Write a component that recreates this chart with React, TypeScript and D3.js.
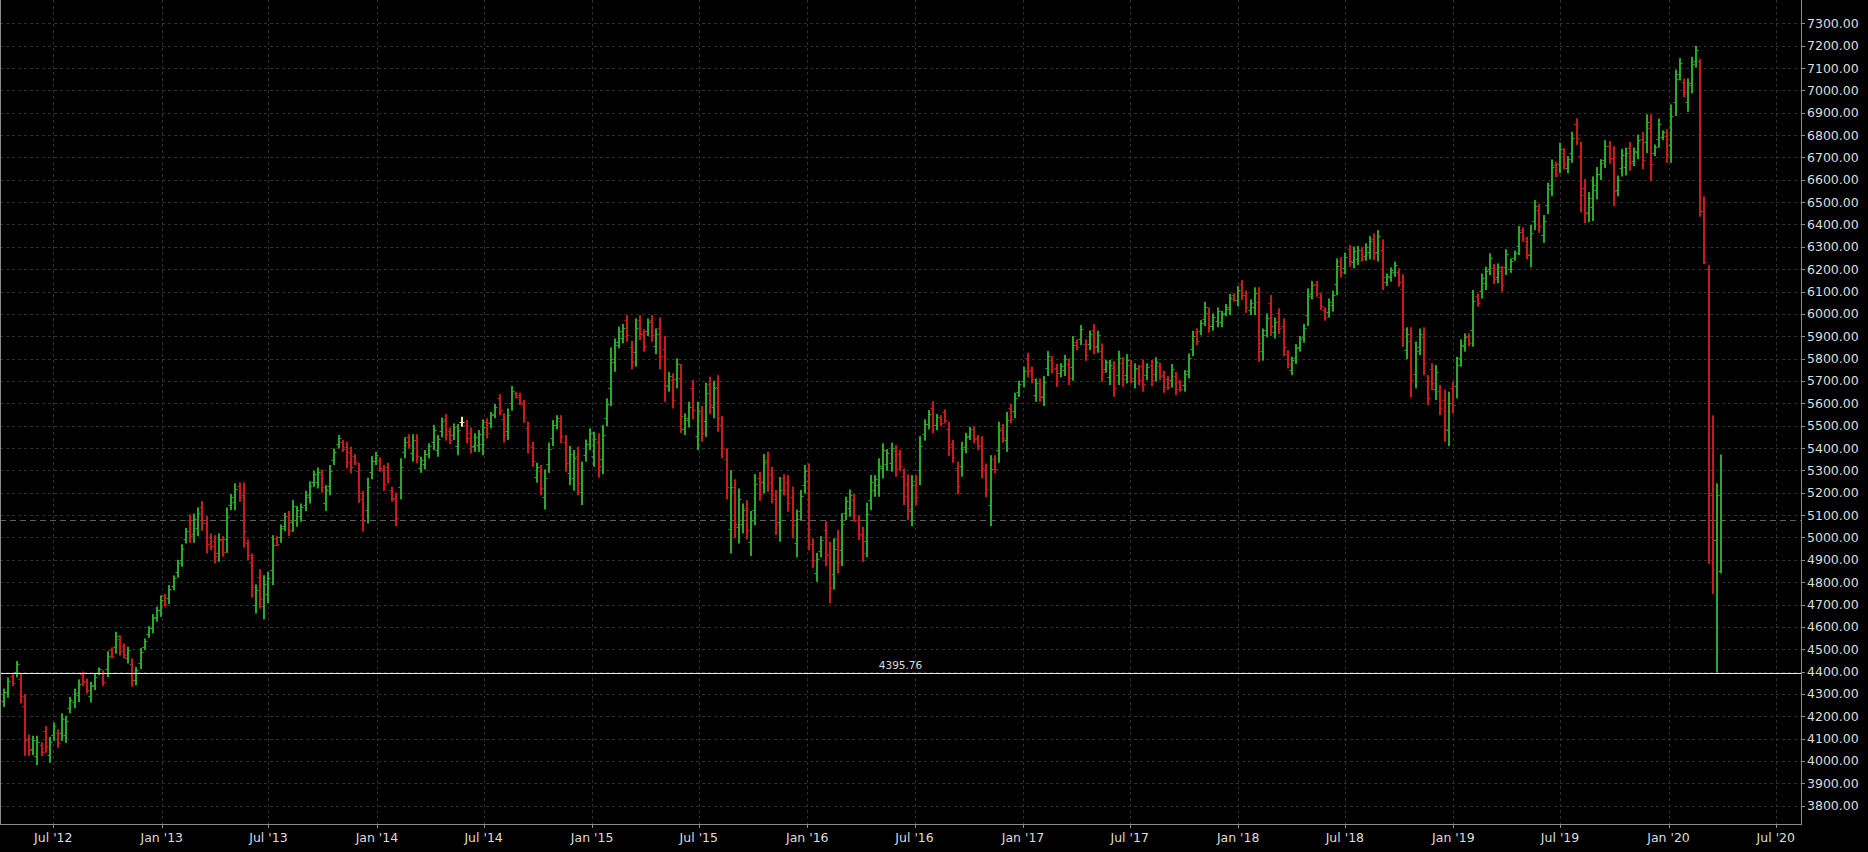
import React from 'react';
import * as d3 from 'd3';

const W = 1868;
const H = 852;
const PLOT_RIGHT = 1801;
const PLOT_BOTTOM = 824;

// weekly bars (Mondays), Apr 2012 .. Mar 2020
const barDates: Date[] = d3.utcMonday.range(new Date(Date.UTC(2012, 3, 2)), new Date(Date.UTC(2020, 3, 1)));

const highs = [
  4354,4324,4374,4389,4447,4392,4299,4119,4113,4113,
  4084,4156,4108,4172,4141,4213,4202,4286,4324,4365,
  4400,4369,4354,4392,4418,4406,4491,4508,4578,4563,
  4526,4511,4459,4421,4506,4548,4603,4657,4690,4741,
  4747,4787,4830,4900,4970,5042,5103,5107,5134,5163,
  5097,5018,5010,5018,5006,5134,5194,5242,5246,5246,
  4991,4928,4790,4858,4831,4846,5010,5006,5058,5110,
  5118,5167,5140,5152,5209,5251,5298,5313,5304,5234,
  5324,5398,5458,5435,5428,5406,5373,5334,5209,5267,
  5364,5383,5358,5324,5334,5227,5200,5354,5448,5462,
  5462,5462,5361,5391,5421,5503,5458,5537,5552,5492,
  5510,5507,5540,5525,5492,5466,5480,5528,5533,5562,
  5597,5641,5555,5577,5677,5652,5647,5615,5518,5428,
  5334,5324,5304,5424,5525,5547,5547,5458,5409,5391,
  5406,5339,5438,5488,5473,5466,5503,5622,5850,5890,
  5943,5955,5995,5880,5980,5995,5931,5980,5995,5935,
  5985,5901,5741,5734,5801,5776,5555,5607,5704,5607,
  5588,5692,5719,5701,5726,5543,5398,5301,5260,5219,
  5152,5167,5119,5283,5294,5373,5383,5316,5212,5271,
  5283,5279,5227,5125,5212,5324,5331,4996,4931,5006,
  5073,4981,4996,5033,5108,5182,5215,5194,5100,5048,
  5155,5279,5279,5354,5421,5395,5424,5413,5391,5309,
  5282,5279,5279,5453,5528,5570,5610,5552,5547,5573,
  5518,5436,5339,5428,5468,5495,5498,5458,5453,5331,
  5368,5368,5518,5507,5562,5597,5647,5701,5764,5826,
  5764,5711,5711,5722,5834,5811,5776,5779,5816,5801,
  5901,5886,5950,5886,5925,5955,5925,5868,5794,5794,
  5789,5835,5806,5820,5794,5779,5771,5796,5779,5794,
  5806,5782,5746,5722,5776,5741,5704,5749,5823,5925,
  5935,5972,6054,6029,6002,6029,6013,6044,6089,6092,
  6125,6151,6104,6065,6119,6119,5935,6002,6084,5984,
  6025,5980,5838,5808,5865,5901,5955,6114,6147,6147,
  6092,6029,6069,6104,6248,6253,6274,6308,6301,6304,
  6298,6316,6348,6360,6375,6333,6181,6208,6234,6204,
  6178,5940,5940,5876,5935,5940,5726,5779,5771,5682,
  5662,5652,5697,5808,5886,5913,5913,6107,6092,6181,
  6211,6271,6223,6226,6214,6289,6248,6283,6393,6387,
  6345,6398,6509,6492,6442,6587,6691,6681,6766,6741,
  6706,6815,6875,6769,6603,6545,6615,6657,6692,6777,
  6773,6750,6619,6738,6744,6769,6744,6802,6815,6893,
  6893,6758,6874,6821,6827,6937,7092,7144,7053,7053,
  7150,7199,7141,6526,6219,5546,5242,5371,
];

const lows = [
  4280,4242,4283,4335,4374,4257,4023,4023,4026,3981,
  4022,4037,3992,4090,4059,4090,4081,4213,4236,4263,
  4336,4302,4262,4317,4384,4336,4375,4459,4480,4471,
  4459,4436,4332,4339,4411,4496,4551,4571,4623,4645,
  4690,4702,4764,4820,4869,4973,4976,4976,5006,5030,
  4928,4943,4884,4891,4914,4931,5122,5122,5160,4955,
  4899,4731,4660,4682,4633,4705,4787,4961,4976,5028,
  5006,5025,5048,5070,5118,5152,5227,5219,5200,5119,
  5189,5324,5398,5383,5309,5286,5324,5155,5026,5063,
  5260,5324,5294,5209,5242,5160,5051,5170,5354,5398,
  5339,5331,5289,5304,5354,5391,5361,5448,5433,5418,
  5436,5368,5495,5421,5376,5383,5383,5368,5443,5488,
  5533,5547,5424,5436,5567,5622,5592,5513,5376,5316,
  5245,5189,5125,5289,5409,5483,5421,5294,5234,5209,
  5189,5145,5339,5391,5316,5268,5283,5498,5588,5741,
  5846,5868,5875,5752,5764,5883,5831,5901,5875,5820,
  5752,5607,5652,5577,5667,5468,5458,5492,5528,5391,
  5428,5450,5552,5533,5473,5354,5170,4928,4996,4973,
  5018,4991,4917,5055,5164,5197,5204,5152,5011,4981,
  5189,5115,4996,4911,5078,5197,4943,4864,4802,4911,
  4872,4705,4767,4839,4872,5078,5093,5070,4988,4891,
  4911,5122,5182,5182,5264,5298,5294,5272,5298,5145,
  5078,5051,5145,5234,5433,5483,5465,5480,5498,5510,
  5364,5334,5194,5272,5376,5436,5421,5391,5264,5179,
  5051,5286,5334,5424,5383,5510,5533,5629,5671,5716,
  5689,5607,5607,5588,5722,5734,5674,5716,5722,5682,
  5701,5838,5861,5790,5838,5820,5826,5697,5737,5682,
  5629,5682,5674,5689,5689,5667,5682,5652,5704,5677,
  5697,5704,5647,5659,5671,5637,5652,5652,5711,5811,
  5861,5905,5946,5916,5925,5940,5940,5990,5995,6055,
  6035,6062,6005,5995,5995,5786,5791,5895,5901,5890,
  5910,5811,5756,5726,5776,5831,5871,5946,6065,6077,
  6017,5970,5984,6010,6084,6163,6178,6211,6204,6219,
  6234,6238,6244,6241,6234,6107,6125,6144,6166,6122,
  5853,5797,5626,5667,5816,5726,5592,5659,5615,5547,
  5428,5409,5555,5622,5764,5831,5856,5853,6032,6069,
  6107,6174,6134,6137,6099,6174,6184,6238,6263,6323,
  6244,6208,6375,6363,6318,6447,6527,6611,6629,6647,
  6629,6676,6756,6454,6406,6410,6416,6512,6599,6653,
  6672,6483,6526,6615,6619,6641,6661,6692,6647,6719,
  6595,6706,6744,6777,6676,6676,6885,7044,6970,6904,
  6986,7102,6435,6223,4882,4747,4395.76,4839,
];

const opens = [
  4339,4267,4310,4378,4396,4365,4244,4100,4052,4021,
  4072,4132,4027,4115,4125,4127,4117,4235,4262,4294,
  4387,4356,4290,4340,4394,4392,4410,4498,4509,4545,
  4513,4459,4434,4364,4440,4512,4567,4597,4643,4674,
  4736,4728,4784,4844,4899,4994,5078,5015,5044,5136,
  5063,5003,4985,4929,4988,4992,5144,5158,5229,5188,
  4973,4889,4699,4823,4692,4747,4854,4997,5001,5053,
  5096,5068,5076,5095,5145,5182,5248,5247,5283,5154,
  5230,5346,5416,5425,5404,5382,5363,5298,5172,5124,
  5291,5342,5345,5301,5316,5214,5170,5225,5382,5449,
  5376,5436,5311,5330,5374,5425,5390,5475,5528,5477,
  5458,5410,5515,5504,5469,5408,5412,5416,5515,5510,
  5552,5622,5529,5478,5600,5646,5636,5595,5490,5406,
  5272,5297,5179,5330,5444,5502,5522,5425,5287,5264,
  5363,5203,5369,5420,5363,5426,5349,5535,5667,5786,
  5875,5894,5971,5854,5829,5973,5911,5925,5971,5855,
  5938,5842,5679,5703,5707,5714,5487,5527,5669,5456,
  5556,5523,5686,5583,5675,5505,5352,5040,5207,5047,
  5058,5132,4978,5123,5268,5250,5347,5283,5172,5068,
  5264,5246,5181,4975,5118,5235,5253,4970,4841,4940,
  5033,4926,4836,4994,4943,5109,5130,5169,5078,5017,
  4984,5169,5211,5234,5311,5327,5333,5385,5372,5276,
  5241,5119,5252,5300,5462,5509,5581,5502,5537,5560,
  5487,5416,5310,5319,5404,5454,5483,5445,5415,5301,
  5146,5352,5389,5490,5437,5580,5567,5651,5699,5804,
  5749,5638,5690,5628,5756,5796,5756,5735,5750,5777,
  5761,5876,5888,5867,5864,5928,5856,5834,5754,5716,
  5757,5728,5780,5728,5773,5701,5753,5767,5727,5771,
  5730,5766,5726,5709,5703,5720,5694,5681,5745,5845,
  5920,5925,5978,6006,5948,5967,5962,6006,6023,6085,
  6062,6133,6084,6016,6032,6052,5834,5927,6047,5918,
  6002,5946,5822,5751,5803,5852,5896,5996,6090,6133,
  6077,6017,6010,6038,6133,6235,6207,6289,6233,6245,
  6285,6261,6275,6336,6276,6288,6142,6163,6186,6188,
  6113,5840,5877,5730,5852,5897,5699,5755,5662,5655,
  5615,5482,5669,5678,5801,5856,5902,5929,6080,6103,
  6138,6203,6205,6164,6191,6209,6203,6252,6302,6374,
  6325,6265,6415,6466,6355,6489,6576,6667,6670,6722,
  6652,6718,6851,6706,6564,6451,6476,6556,6627,6690,
  6753,6697,6554,6652,6657,6743,6686,6725,6781,6771,
  6833,6722,6783,6790,6797,6754,6947,7074,7036,6949,
  7035,7131,7130,6460,6200,5190,4990,4850,
];

const closes = [
  4299,4308,4356,4349,4432,4291,4092,4047,4096,4087,
  4038,4067,4085,4156,4080,4188,4178,4271,4306,4345,
  4352,4319,4336,4377,4411,4354,4468,4471,4558,4494,
  4476,4496,4364,4405,4487,4538,4593,4640,4677,4722,
  4704,4770,4817,4884,4950,5028,5008,5081,5108,5063,
  4970,4962,4916,4993,4937,5093,5180,5218,5182,5028,
  4922,4780,4764,4726,4791,4818,4965,4972,5042,5094,
  5034,5139,5122,5136,5191,5231,5284,5294,5226,5211,
  5297,5383,5446,5396,5339,5316,5336,5200,5072,5226,
  5343,5371,5310,5238,5265,5177,5088,5317,5429,5414,
  5437,5364,5347,5374,5408,5481,5439,5519,5463,5437,
  5495,5479,5515,5447,5405,5449,5461,5496,5466,5547,
  5584,5571,5457,5549,5655,5630,5606,5539,5412,5344,
  5316,5223,5268,5397,5502,5534,5453,5335,5374,5355,
  5243,5300,5418,5469,5442,5318,5459,5597,5798,5860,
  5924,5938,5905,5784,5937,5911,5856,5964,5905,5912,
  5810,5681,5723,5616,5774,5545,5536,5584,5572,5564,
  5468,5644,5594,5667,5536,5401,5227,5226,5062,5170,
  5125,5035,5079,5237,5196,5338,5249,5193,5061,5213,
  5213,5156,5054,5082,5185,5299,5040,4897,4905,4987,
  4922,4774,4950,4888,5061,5161,5191,5101,5016,4930,
  5106,5248,5260,5320,5390,5376,5398,5307,5321,5186,
  5129,5233,5179,5409,5509,5553,5501,5538,5510,5526,
  5403,5360,5230,5397,5450,5483,5440,5408,5311,5217,
  5305,5307,5481,5445,5526,5532,5624,5687,5745,5744,
  5708,5690,5633,5695,5812,5753,5700,5766,5797,5712,
  5861,5850,5932,5814,5908,5854,5905,5740,5783,5772,
  5669,5804,5707,5794,5715,5757,5704,5688,5764,5706,
  5784,5724,5672,5675,5755,5663,5665,5730,5801,5902,
  5880,5959,6032,5944,5987,6011,5998,6033,6070,6064,
  6107,6084,6030,6051,6094,5869,5906,5981,5947,5965,
  5939,5853,5777,5792,5847,5887,5938,6080,6131,6095,
  6036,5985,6052,6085,6215,6186,6255,6235,6282,6287,
  6250,6300,6327,6271,6347,6164,6170,6195,6220,6143,
  5934,5911,5705,5834,5911,5780,5626,5689,5740,5581,
  5487,5603,5591,5771,5862,5897,5870,6056,6047,6159,
  6190,6252,6156,6208,6128,6266,6235,6274,6367,6339,
  6269,6360,6482,6395,6417,6559,6658,6628,6739,6670,
  6691,6787,6786,6533,6455,6518,6575,6628,6673,6752,
  6697,6550,6600,6713,6719,6673,6727,6780,6689,6858,
  6670,6748,6848,6812,6714,6885,7051,7124,6991,7023,
  7117,7180,6460,6230,5200,4990,5190,5080,
];

const yTickValues = d3.range(3800, 7301, 100);
const xTickDates: Date[] = d3.utcMonth.every(6)!.range(new Date(Date.UTC(2012, 6, 1)), new Date(Date.UTC(2020, 6, 2)));
const markedLow = 4395.76;
const lastClose = closes[closes.length - 1];

const UP = '#2aa82a';
const DOWN = '#c81a1a';
const FLAT = '#f3e8a0';
const GRID = '#2e2e2e';
const AXIS = '#8c8c8c';
const TEXT = '#dcdcdc';
const FONT = '"DejaVu Sans", Verdana, sans-serif';

export default function App() {
  const x = d3.scaleUtc()
    .domain([new Date(Date.UTC(2012, 6, 1)), new Date(Date.UTC(2020, 6, 1))])
    .range([53.3, 1775.8]);
  const y = d3.scaleLinear().domain([3800, 7300]).range([805.7, 23.3]);
  const fmtY = d3.format('.2f');
  const fmtX = d3.utcFormat("%b '%y");
  const n = Math.min(barDates.length, highs.length, lows.length, opens.length, closes.length);
  const bars = d3.range(n).map(i => ({
    d: barDates[i], o: opens[i], h: highs[i], l: lows[i], c: closes[i],
  }));
  const snap = (v: number) => Math.round(v) + 0.5;

  return (
    <svg width={W} height={H} style={{ position: 'fixed', left: 0, top: 0, background: '#000', display: 'block' }}
      fontFamily={FONT}>
      <rect x={0} y={0} width={W} height={H} fill="#000" />
      <defs>
        <clipPath id="plot">
          <rect x={0} y={0} width={PLOT_RIGHT} height={PLOT_BOTTOM} />
        </clipPath>
      </defs>
      {/* grid */}
      <g stroke={GRID} strokeWidth={1} strokeDasharray="3,3">
        {yTickValues.map(v => (
          <line key={'gy' + v} x1={0} x2={PLOT_RIGHT} y1={snap(y(v))} y2={snap(y(v))} />
        ))}
        {xTickDates.map(d => (
          <line key={'gx' + d.getTime()} x1={snap(x(d))} x2={snap(x(d))} y1={0} y2={PLOT_BOTTOM} />
        ))}
      </g>
      {/* last close dashed line */}
      <line x1={0} x2={PLOT_RIGHT} y1={snap(y(lastClose))} y2={snap(y(lastClose))}
        stroke="#5e5e5e" strokeDasharray="6,4" strokeWidth={1} />
      {/* bars */}
      <g clipPath="url(#plot)">
        {bars.map((b, i) => {
          const cx = Math.round(x(b.d));
          const col = b.c > b.o ? UP : b.c < b.o ? DOWN : FLAT;
          const yh = y(b.h), yl = y(b.l);
          return (
            <g key={i} fill={col}>
              <rect x={cx - 1} y={yh} width={2} height={Math.max(1, yl - yh)} />
              <rect x={cx - 2.5} y={Math.round(y(b.o))} width={1.5} height={1} />
              <rect x={cx + 1} y={Math.round(y(b.c))} width={1.5} height={1} />
            </g>
          );
        })}
      </g>
      {/* marked low line */}
      <line x1={0} x2={PLOT_RIGHT} y1={snap(y(markedLow))} y2={snap(y(markedLow))} stroke="#e8e8e8" strokeWidth={1} />
      <text x={PLOT_RIGHT / 2} y={y(markedLow) - 4} fill={TEXT} fontSize={10.5} textAnchor="middle">
        {fmtY(markedLow)}
      </text>
      {/* frame */}
      <line x1={0.5} x2={0.5} y1={0} y2={PLOT_BOTTOM} stroke={AXIS} />
      <line x1={PLOT_RIGHT + 0.5} x2={PLOT_RIGHT + 0.5} y1={0} y2={PLOT_BOTTOM + 0.5} stroke={AXIS} />
      <line x1={0} x2={PLOT_RIGHT + 1} y1={PLOT_BOTTOM + 0.5} y2={PLOT_BOTTOM + 0.5} stroke={AXIS} />
      {/* y axis */}
      <g>
        {yTickValues.map(v => (
          <g key={'ty' + v}>
            <line x1={PLOT_RIGHT + 1} x2={PLOT_RIGHT + 4} y1={snap(y(v))} y2={snap(y(v))} stroke={AXIS} />
            <text x={1807} y={y(v)} dy="0.36em" fill={TEXT} fontSize={12.5}>{fmtY(v)}</text>
          </g>
        ))}
      </g>
      {/* x axis */}
      <g>
        {xTickDates.map(d => (
          <g key={'tx' + d.getTime()}>
            <line x1={snap(x(d))} x2={snap(x(d))} y1={PLOT_BOTTOM + 1} y2={PLOT_BOTTOM + 4} stroke={AXIS} />
            <text x={x(d)} y={841.5} fill={TEXT} fontSize={12.5} textAnchor="middle">{fmtX(d)}</text>
          </g>
        ))}
      </g>
    </svg>
  );
}
